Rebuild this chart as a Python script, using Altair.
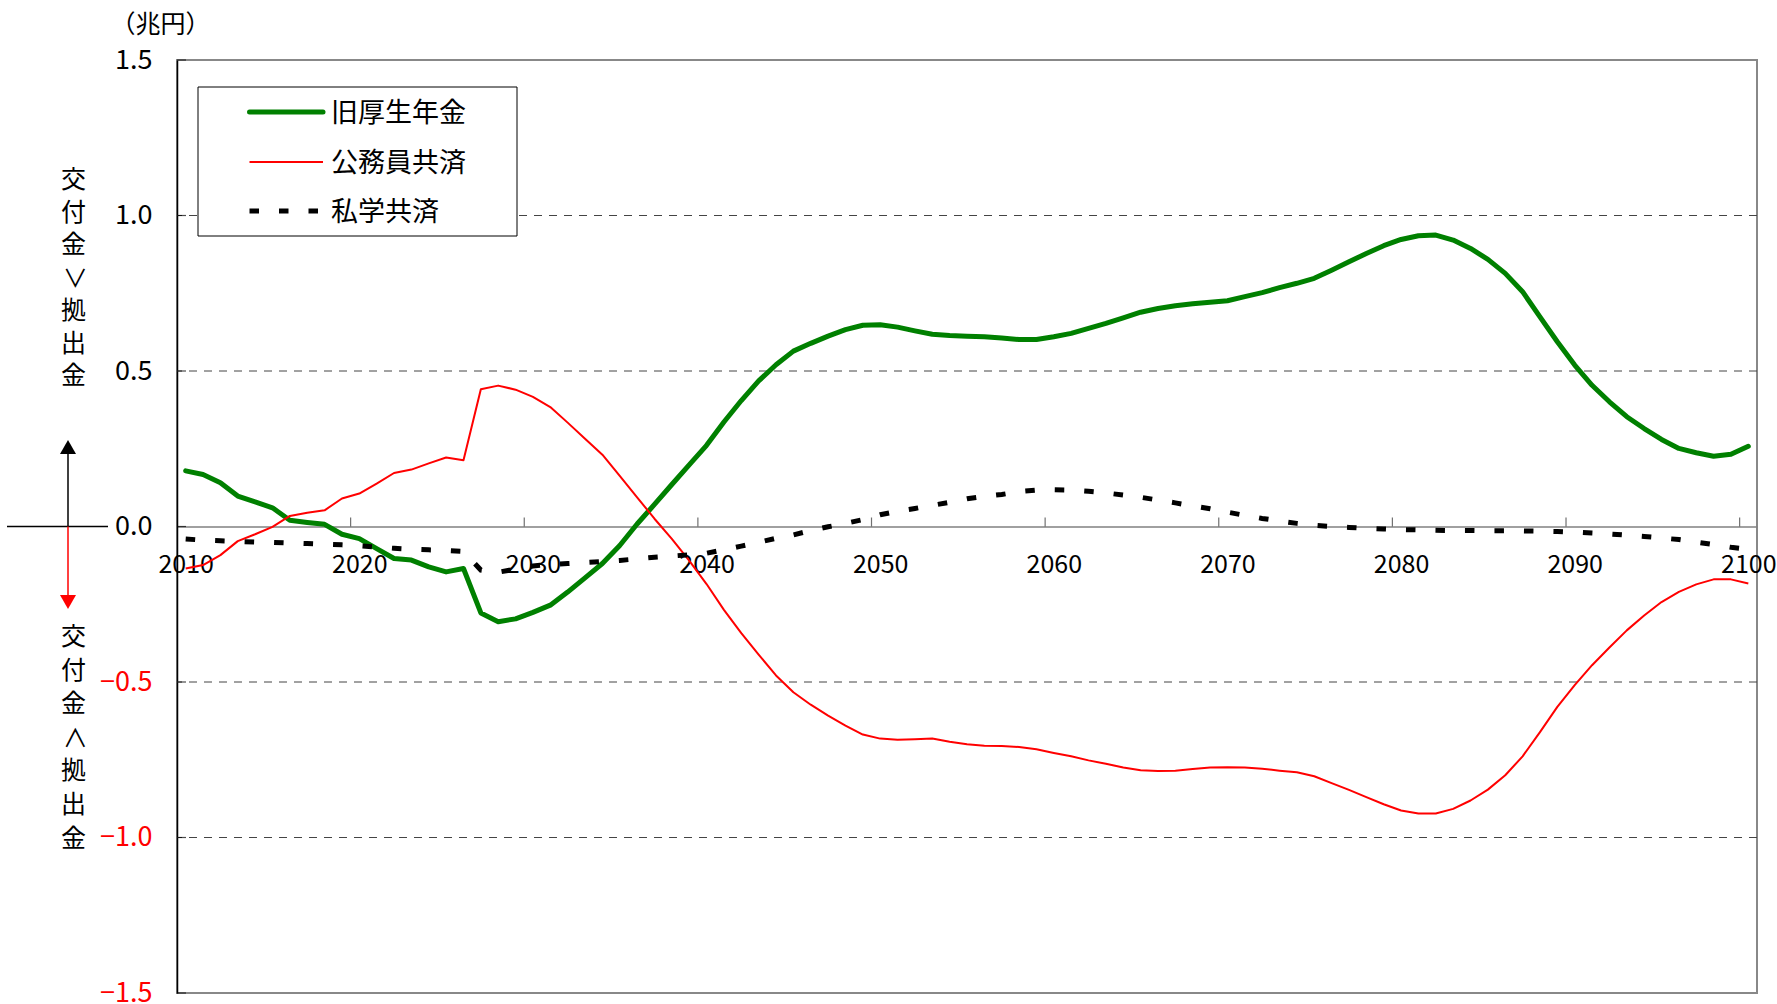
import altair as alt
import pandas as pd

# ---- data (兆円) ----------------------------------------------------------
years = list(range(2010, 2101))

kosei = [  # 旧厚生年金
    0.179, 0.167, 0.141, 0.098, 0.079, 0.060, 0.020, 0.013, 0.007, -0.025,
    -0.039, -0.071, -0.103, -0.108, -0.130, -0.146, -0.135, -0.278, -0.306, -0.297,
    -0.276, -0.253, -0.211, -0.165, -0.119, -0.061, 0.008, 0.071, 0.135, 0.198,
    0.261, 0.336, 0.405, 0.468, 0.520, 0.564, 0.589, 0.612, 0.633, 0.647,
    0.649, 0.641, 0.629, 0.618, 0.614, 0.612, 0.610, 0.606, 0.601, 0.601,
    0.610, 0.621, 0.637, 0.653, 0.671, 0.689, 0.701, 0.710, 0.716, 0.721,
    0.726, 0.739, 0.752, 0.768, 0.782, 0.798, 0.824, 0.851, 0.878, 0.903,
    0.923, 0.935, 0.937, 0.921, 0.894, 0.859, 0.814, 0.755, 0.674, 0.594,
    0.519, 0.454, 0.401, 0.353, 0.315, 0.280, 0.251, 0.237, 0.226, 0.232,
    0.258,
]

komuin = [  # 公務員共済
    -0.135, -0.124, -0.092, -0.047, -0.025, -0.001, 0.034, 0.044, 0.052, 0.090,
    0.106, 0.138, 0.172, 0.183, 0.203, 0.222, 0.213, 0.441, 0.453, 0.440,
    0.417, 0.384, 0.334, 0.282, 0.231, 0.163, 0.094, 0.025, -0.040, -0.110,
    -0.185, -0.268, -0.343, -0.412, -0.479, -0.533, -0.573, -0.608, -0.640, -0.669,
    -0.682, -0.686, -0.684, -0.682, -0.692, -0.700, -0.705, -0.706, -0.709, -0.716,
    -0.728, -0.739, -0.752, -0.763, -0.775, -0.784, -0.786, -0.785, -0.780, -0.775,
    -0.774, -0.775, -0.779, -0.785, -0.790, -0.803, -0.825, -0.847, -0.870, -0.893,
    -0.913, -0.923, -0.923, -0.908, -0.881, -0.846, -0.800, -0.739, -0.661, -0.580,
    -0.510, -0.446, -0.389, -0.334, -0.286, -0.243, -0.210, -0.186, -0.170, -0.170,
    -0.183,
]

shigaku = [  # 私学共済
    -0.040, -0.044, -0.046, -0.048, -0.050, -0.051, -0.053, -0.055, -0.057, -0.059,
    -0.062, -0.066, -0.070, -0.073, -0.075, -0.077, -0.080, -0.140, -0.147, -0.137,
    -0.127, -0.122, -0.119, -0.116, -0.113, -0.109, -0.104, -0.099, -0.095, -0.091,
    -0.086, -0.075, -0.063, -0.051, -0.038, -0.027, -0.013, -0.001, 0.010, 0.022,
    0.038, 0.049, 0.058, 0.068, 0.078, 0.089, 0.097, 0.103, 0.112, 0.117,
    0.118, 0.117, 0.113, 0.108, 0.101, 0.094, 0.085, 0.076, 0.066, 0.057,
    0.046, 0.036, 0.026, 0.018, 0.010, 0.004, 0.000, -0.003, -0.006, -0.008,
    -0.010, -0.011, -0.012, -0.013, -0.013, -0.014, -0.014, -0.014, -0.015, -0.016,
    -0.018, -0.021, -0.024, -0.028, -0.032, -0.037, -0.042, -0.050, -0.058, -0.067,
    -0.073,
]

series_names = ["旧厚生年金", "公務員共済", "私学共済"]
x_label_years = list(range(2010, 2101, 10))
x_tick_bounds = [2019.5, 2029.5, 2039.5, 2049.5, 2059.5, 2069.5, 2079.5, 2089.5, 2099.5]
y_ticks = [-1.5, -1.0, -0.5, 0.0, 0.5, 1.0, 1.5]
grid_vals = [-1.0, -0.5, 0.5, 1.0]

unit_text = "（兆円）"
upper_caption = "交付金＞拠出金"
lower_caption = "交付金＜拠出金"

# ---- styling ----------------------------------------------------------------
FONT = "Noto Sans CJK JP"
GREEN, RED, BLACK = "#008000", "#FF0000", "#000000"
W, H = 1580, 933

df = pd.DataFrame({"year": years, "kosei": kosei, "komuin": komuin, "shigaku": shigaku})

x_scale = alt.Scale(domain=[2009.5, 2100.5], nice=False, zero=False)
y_scale = alt.Scale(domain=[-1.5, 1.5], nice=False, zero=False)

x_axis = alt.Axis(
    values=x_label_years, format="d", title=None, grid=False, ticks=False, tickSize=0,
    offset=-H / 2, domainColor="#808080", domainWidth=1.5,
    labelFont=FONT, labelFontSize=25, labelColor="black", labelPadding=26,
    labelFlush=False, labelOverlap=False,
)
y_axis = alt.Axis(
    values=y_ticks, format=".1f", title=None, grid=False, ticks=False, tickSize=0,
    domainColor="black", domainWidth=1.5,
    labelFont=FONT, labelFontSize=27, labelPadding=25, labelOverlap=False,
    labelColor={"condition": {"test": "datum.value < 0", "value": RED}, "value": "black"},
)


def X(field):
    return alt.X(field, scale=x_scale, axis=x_axis)


def Y(field):
    return alt.Y(field, scale=y_scale, axis=y_axis)


def Y0():
    return alt.YDatum(0, scale=y_scale, axis=y_axis)


one = pd.DataFrame({"k": [0]})

# dashed horizontal gridlines
grid = alt.Chart(pd.DataFrame({"v": grid_vals})).mark_rule(
    color="#444444", strokeWidth=1, strokeDash=[8, 7]
).encode(y=Y("v:Q"))

# inward tick marks on the category boundaries (x) and value ticks (y)
xticks = alt.Chart(pd.DataFrame({"t": x_tick_bounds})).mark_tick(
    orient="vertical", size=9, thickness=1.2, color="#333333", yOffset=-4.5
).encode(x=X("t:Q"), y=Y0())

yticks = alt.Chart(pd.DataFrame({"v": y_ticks})).mark_tick(
    orient="horizontal", size=9, thickness=1.2, color="black"
).encode(x=alt.value(4.5), y=Y("v:Q"))

# the three series
line_green = alt.Chart(df).mark_line(
    color=GREEN, strokeWidth=5, strokeCap="round", strokeJoin="round"
).encode(x=X("year:Q"), y=Y("kosei:Q"))

line_red = alt.Chart(df).mark_line(
    color=RED, strokeWidth=2, strokeJoin="round"
).encode(x=X("year:Q"), y=Y("komuin:Q"))

line_black = alt.Chart(df).mark_line(
    color=BLACK, strokeWidth=5, strokeDash=[9.5, 20], strokeCap="butt", strokeJoin="miter"
).encode(x=X("year:Q"), y=Y("shigaku:Q"))


def text(t, x, y, size, color="black", align="center", baseline="middle", **kw):
    return alt.Chart(one).mark_text(
        text=t, font=FONT, fontSize=size, color=color, align=align, baseline=baseline, **kw
    ).encode(x=alt.value(x), y=alt.value(y))


# unit label
unit = text(unit_text, -16.5, -35, 25)


# vertical captions beside the axis, one character per cell;
# the inequality sign is turned a quarter for vertical writing
def vertical_caption(caption, x, y_first, step, size=25):
    layers = []
    for i, ch in enumerate(caption):
        kw = {"angle": 90} if ch in "＞＜" else {}
        layers.append(text(ch, x, y_first + i * step, size, **kw))
    return layers


col_x = -103.5
upper = vertical_caption(upper_caption, col_x, 120, 32.7)
lower = vertical_caption(lower_caption, col_x, 577, 33.6)

# direction arrows at the zero level
arrow_x = -109
hline = alt.Chart(one).mark_rule(color="black", strokeWidth=1.5).encode(
    x=alt.value(-170), x2=alt.value(-69), y=Y0()
)
up_line = alt.Chart(one).mark_rule(color="black", strokeWidth=1.5).encode(
    x=alt.value(arrow_x), y=Y0(), y2=alt.value(394)
)
down_line = alt.Chart(one).mark_rule(color=RED, strokeWidth=1.5).encode(
    x=alt.value(arrow_x), y=Y0(), y2=alt.value(535)
)
up_head = alt.Chart(one).mark_point(
    shape="triangle-up", filled=True, size=256, color="black", opacity=1
).encode(x=alt.value(arrow_x), y=alt.value(387))
down_head = alt.Chart(one).mark_point(
    shape="triangle-down", filled=True, size=256, color=RED, opacity=1
).encode(x=alt.value(arrow_x), y=alt.value(542))

# legend box
legend_box = alt.Chart(one).mark_rect(fill="white", stroke="black", strokeWidth=1).encode(
    x=alt.value(21), x2=alt.value(340), y=alt.value(27), y2=alt.value(176)
)
leg_rows = [52, 102, 151]
leg_styles = [
    dict(color=GREEN, strokeWidth=5, strokeCap="round"),
    dict(color=RED, strokeWidth=2),
    dict(color=BLACK, strokeWidth=5, strokeDash=[9.5, 20], strokeCap="butt"),
]
legend_layers = [legend_box]
for name, row, style in zip(series_names, leg_rows, leg_styles):
    legend_layers.append(
        alt.Chart(one).mark_rule(**style).encode(
            x=alt.value(72.5), x2=alt.value(146), y=alt.value(row)
        )
    )
    legend_layers.append(text(name, 154, row + 2, 27, align="left"))

chart = alt.layer(
    grid, xticks, yticks,
    line_green, line_red, line_black,
    unit, *upper, *lower,
    hline, up_line, down_line, up_head, down_head,
    *legend_layers,
).properties(
    width=W,
    height=H,
    autosize=alt.AutoSizeParams(type="none"),
    padding={"left": 177, "top": 60, "right": 20, "bottom": 11},
    background="white",
).configure_view(
    stroke="#888888", strokeWidth=2
)

chart.save("out.html", embed_options={"renderer": "svg", "actions": False})
